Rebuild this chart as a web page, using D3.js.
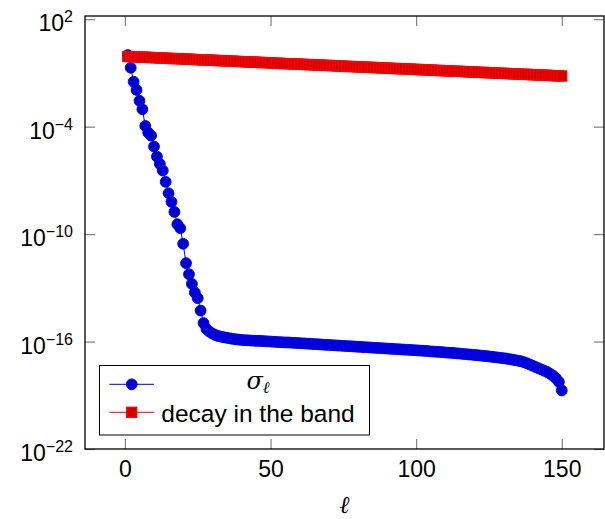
<!DOCTYPE html>
<html>
<head>
<meta charset="utf-8">
<script src="https://cdn.jsdelivr.net/npm/d3@7"></script>
<style>
  body { margin: 0; background: #fff; }
  svg { display: block; }
</style>
</head>
<body>
<svg id="chart" width="605" height="519"></svg>
<script>
// Mode index ℓ = 1 … 150
const ell = d3.range(1, 151);

// log10 of the singular values σ_ℓ
const sigmaLog10 = [
   0.00, -0.71, -1.49, -1.95, -2.55, -3.03, -3.96, -4.33, -4.50, -5.11,
  -5.67, -6.08, -6.45, -7.08, -7.72, -8.20, -8.76, -9.45, -9.67, -10.54,
  -11.62, -12.24, -12.78, -13.26, -13.58, -14.27, -14.97, -15.30, -15.44, -15.55,
  -15.63, -15.69, -15.73, -15.76, -15.79, -15.82, -15.85, -15.87, -15.89, -15.91,
  -15.92, -15.93, -15.94, -15.95, -15.96, -15.96, -15.97, -15.98, -15.99, -16.00,
  -16.01, -16.02, -16.03, -16.04, -16.05, -16.05, -16.06, -16.07, -16.08, -16.09,
  -16.10, -16.11, -16.12, -16.13, -16.14, -16.15, -16.16, -16.17, -16.18, -16.19,
  -16.20, -16.21, -16.22, -16.23, -16.24, -16.25, -16.26, -16.27, -16.28, -16.29,
  -16.30, -16.31, -16.32, -16.33, -16.34, -16.35, -16.36, -16.37, -16.38, -16.39,
  -16.40, -16.41, -16.42, -16.43, -16.44, -16.45, -16.46, -16.47, -16.48, -16.49,
  -16.50, -16.51, -16.52, -16.53, -16.55, -16.56, -16.57, -16.58, -16.59, -16.61,
  -16.62, -16.63, -16.64, -16.66, -16.67, -16.69, -16.70, -16.72, -16.73, -16.75,
  -16.76, -16.78, -16.80, -16.81, -16.83, -16.85, -16.87, -16.89, -16.91, -16.93,
  -16.95, -16.98, -17.01, -17.04, -17.07, -17.10, -17.15, -17.21, -17.28, -17.35,
  -17.42, -17.49, -17.56, -17.63, -17.70, -17.80, -17.91, -18.05, -18.25, -18.73
];

// log10 of the decay bound inside the band
const bandLog10 = [
  -0.08, -0.09, -0.09, -0.10, -0.11, -0.12, -0.12, -0.13, -0.14, -0.15,
  -0.15, -0.16, -0.17, -0.18, -0.18, -0.19, -0.20, -0.20, -0.21, -0.22,
  -0.23, -0.23, -0.24, -0.25, -0.26, -0.26, -0.27, -0.28, -0.28, -0.29,
  -0.30, -0.31, -0.31, -0.32, -0.33, -0.34, -0.34, -0.35, -0.36, -0.37,
  -0.37, -0.38, -0.39, -0.39, -0.40, -0.41, -0.42, -0.42, -0.43, -0.44,
  -0.45, -0.45, -0.46, -0.47, -0.48, -0.48, -0.49, -0.50, -0.50, -0.51,
  -0.52, -0.53, -0.53, -0.54, -0.55, -0.56, -0.56, -0.57, -0.58, -0.58,
  -0.59, -0.60, -0.61, -0.61, -0.62, -0.63, -0.64, -0.64, -0.65, -0.66,
  -0.67, -0.67, -0.68, -0.69, -0.69, -0.70, -0.71, -0.72, -0.72, -0.73,
  -0.74, -0.75, -0.75, -0.76, -0.77, -0.77, -0.78, -0.79, -0.80, -0.80,
  -0.81, -0.82, -0.83, -0.83, -0.84, -0.85, -0.86, -0.86, -0.87, -0.88,
  -0.88, -0.89, -0.90, -0.91, -0.91, -0.92, -0.93, -0.94, -0.94, -0.95,
  -0.96, -0.97, -0.97, -0.98, -0.99, -0.99, -1.00, -1.01, -1.02, -1.02,
  -1.03, -1.04, -1.05, -1.05, -1.06, -1.07, -1.07, -1.08, -1.09, -1.10,
  -1.10, -1.11, -1.12, -1.13, -1.13, -1.14, -1.15, -1.16, -1.16, -1.17
];

const xTicks = [0, 50, 100, 150];
const yTickExponents = [2, -4, -10, -16, -22];
const legendLabels = ["σ", "decay in the band"];

const svg = d3.select("#chart");
const frame = { left: 85, right: 604, top: 16, bottom: 449 };

const x = d3.scaleLinear().domain([-13.7, 164.5]).range([frame.left, frame.right]);
const y = d3.scaleLog().domain([1e-22, Math.pow(10, 2.18)]).range([frame.bottom, frame.top]);

const sigma = ell.map((l, i) => ({ l, v: Math.pow(10, sigmaLog10[i]) }));
const band = ell.map((l, i) => ({ l, v: Math.pow(10, bandLog10[i]) }));

const numFont = "'Liberation Sans', Arial, sans-serif";
const tickColor = "#808080";

// Inward ticks on all four sides
const axisBottom = d3.axisBottom(x).tickValues(xTicks).tickSizeInner(-10).tickSizeOuter(0).tickFormat(d3.format("d"));
const axisTop = d3.axisTop(x).tickValues(xTicks).tickSizeInner(-10).tickSizeOuter(0).tickFormat("");
const yTickValues = yTickExponents.map(e => Math.pow(10, e));
const axisLeft = d3.axisLeft(y).tickValues(yTickValues).tickSizeInner(-10).tickSizeOuter(0).tickFormat("");
const axisRight = d3.axisRight(y).tickValues(yTickValues).tickSizeInner(-10).tickSizeOuter(0).tickFormat("");

function styleAxis(g) {
  g.select(".domain").remove();
  g.selectAll(".tick line").attr("stroke", tickColor).attr("stroke-width", 1.2);
}

const gB = svg.append("g").attr("transform", `translate(0,${frame.bottom})`).call(axisBottom).call(styleAxis);
gB.selectAll(".tick text")
  .attr("y", 27.5).attr("dy", null)
  .attr("font-family", numFont).attr("font-size", 23).attr("fill", "#000");
svg.append("g").attr("transform", `translate(0,${frame.top})`).call(axisTop).call(styleAxis);
const gL = svg.append("g").attr("transform", `translate(${frame.left},0)`).call(axisLeft).call(styleAxis);
svg.append("g").attr("transform", `translate(${frame.right},0)`).call(axisRight).call(styleAxis);

// Power-of-ten labels on the y axis
gL.selectAll(".tick").each(function(d, i) {
  const t = d3.select(this).append("text")
    .attr("x", -12).attr("y", 11.5)
    .attr("text-anchor", "end")
    .attr("fill", "#000")
    .attr("font-family", numFont);
  t.append("tspan").attr("font-size", 23).text("10");
  const e = yTickExponents[i];
  t.append("tspan").attr("font-size", 16).attr("dy", -9)
    .text(e < 0 ? "\u2212" + Math.abs(e) : String(e));
});

// Series σ_ℓ
svg.append("path")
  .datum(sigma)
  .attr("fill", "none").attr("stroke", "#0000ff").attr("stroke-width", 1)
  .attr("d", d3.line().x(d => x(d.l)).y(d => y(d.v)));
svg.append("g").selectAll("circle").data(sigma).join("circle")
  .attr("cx", d => x(d.l)).attr("cy", d => y(d.v)).attr("r", 5.4)
  .attr("fill", "#0000cc").attr("stroke", "#0000ff").attr("stroke-width", 1);

// Decay in the band
const sq = 10;
svg.append("path")
  .datum(band)
  .attr("fill", "none").attr("stroke", "#ff0000").attr("stroke-width", 1)
  .attr("d", d3.line().x(d => x(d.l)).y(d => y(d.v)));
svg.append("g").selectAll("rect").data(band).join("rect")
  .attr("x", d => x(d.l) - sq / 2).attr("y", d => y(d.v) - sq / 2)
  .attr("width", sq).attr("height", sq)
  .attr("fill", "#cc0000").attr("stroke", "#ff0000").attr("stroke-width", 1.3);

// Axis frame
svg.append("rect")
  .attr("x", frame.left).attr("y", frame.top)
  .attr("width", frame.right - frame.left).attr("height", frame.bottom - frame.top)
  .attr("fill", "none").attr("stroke", "#000").attr("stroke-width", 1.3);

// x label
svg.append("text")
  .attr("x", (frame.left + frame.right) / 2).attr("y", 513)
  .attr("text-anchor", "middle")
  .attr("font-family", "'DejaVu Serif', serif").attr("font-style", "italic")
  .attr("font-size", 24)
  .text("ℓ");

// Legend
const lg = svg.append("g");
lg.append("rect")
  .attr("x", 99.5).attr("y", 365.5).attr("width", 270).attr("height", 69.5)
  .attr("fill", "#fff").attr("stroke", "#000").attr("stroke-width", 1);
const rowY = [384.3, 412.3];
const textCenter = 258;
// row 1: σ_ℓ
lg.append("line").attr("x1", 109.3).attr("x2", 154).attr("y1", rowY[0]).attr("y2", rowY[0])
  .attr("stroke", "#0000ff").attr("stroke-width", 1);
lg.append("circle").attr("cx", 131.7).attr("cy", rowY[0]).attr("r", 5.4)
  .attr("fill", "#0000cc").attr("stroke", "#0000ff").attr("stroke-width", 1);
const t1 = lg.append("text").attr("x", textCenter).attr("y", rowY[0] + 5)
  .attr("text-anchor", "middle").attr("font-family", "'DejaVu Serif', serif");
t1.append("tspan").attr("font-style", "italic").attr("font-size", 24).text(legendLabels[0]);
t1.append("tspan").attr("font-style", "italic").attr("font-size", 16).attr("dy", 4).text("ℓ");
// row 2: decay in the band
lg.append("line").attr("x1", 109.3).attr("x2", 154).attr("y1", rowY[1]).attr("y2", rowY[1])
  .attr("stroke", "#ff0000").attr("stroke-width", 1);
lg.append("rect").attr("x", 131.7 - sq / 2).attr("y", rowY[1] - sq / 2).attr("width", sq).attr("height", sq)
  .attr("fill", "#cc0000").attr("stroke", "#ff0000").attr("stroke-width", 1.3);
lg.append("text").attr("x", textCenter).attr("y", rowY[1] + 9.4)
  .attr("text-anchor", "middle").attr("font-family", numFont).attr("font-size", 24.5)
  .text(legendLabels[1]);
</script>
</body>
</html>
